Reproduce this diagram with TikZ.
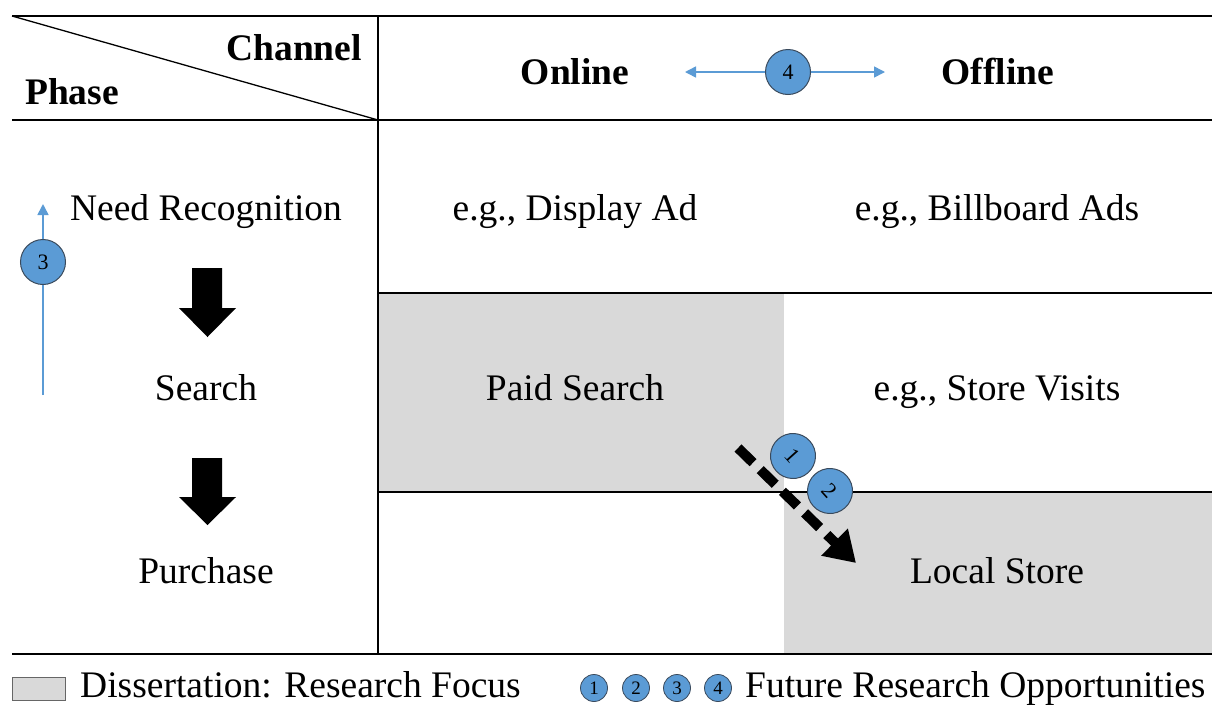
\documentclass[tikz,border=0pt]{standalone}
\usepackage{fontspec}
\setmainfont{Liberation Serif}
\usetikzlibrary{arrows.meta}
\definecolor{focusgray}{HTML}{D9D9D9}
\definecolor{oppblue}{HTML}{5B9BD5}
\definecolor{circline}{HTML}{3A4A5C}
\tikzset{
  txt/.style={font=\fontsize{37.5}{40}\selectfont, inner sep=0pt, anchor=base},
  btxt/.style={txt, font=\fontsize{37.5}{40}\selectfont\bfseries},
  grid/.style={line width=1.8pt, black},
  opp/.style={circle, fill=oppblue, draw=circline, line width=1pt, minimum size=45pt, inner sep=0pt, font=\fontsize{22}{24}\selectfont},
  oppsmall/.style={opp, minimum size=27pt, line width=0.8pt, font=\fontsize{19}{20}\selectfont},
  bluearrow/.style={draw=oppblue, line width=1.6pt, -{Triangle[length=11pt,width=11pt]}},
  blockarrow/.style={fill=black},
  flowarrow/.style={line width=10pt, dash pattern=on 21pt off 10pt, -{Triangle[length=30pt,width=36pt]}}
}
\begin{document}
\begin{tikzpicture}[x=1pt,y=-1pt]
\useasboundingbox (0,0) rectangle (1215,705);
% focus fills
\fill[focusgray] (378,293) rectangle (784,492);
\fill[focusgray] (784,492) rectangle (1212,654);
% grid lines
\draw[grid] (12,16) -- (1212,16);
\draw[grid] (12,120) -- (1212,120);
\draw[grid] (378,293) -- (1212,293);
\draw[grid] (378,492) -- (1212,492);
\draw[grid] (12,654) -- (1212,654);
\draw[grid] (378,16) -- (378,654);
\draw[line width=1.3pt] (12,16) -- (378,120);
% header
\node[btxt, anchor=base east] (channel) at (362,60) {Channel};
\node[btxt, anchor=base west] (phase) at (25,104) {Phase};
\node[btxt] (online) at (575,84) {Online};
\node[btxt] (offline) at (998,84) {Offline};
% phases
\node[txt] (need) at (206,220) {Need Recognition};
\node[txt] (search) at (206,400) {Search};
\node[txt] (purchase) at (206,583) {Purchase};
% cells
\node[txt] (display) at (575,220) {e.g., Display Ad};
\node[txt] (billboard) at (997,220) {e.g., Billboard Ads};
\node[txt] (paid) at (575,400) {Paid Search};
\node[txt] (visits) at (997,400) {e.g., Store Visits};
\node[txt] (local) at (997,583) {Local Store};
% block arrows
\fill[blockarrow] (192,268) -- (222,268) -- (222,308) -- (236,308) -- (207.5,337) -- (179,308) -- (192,308) -- cycle;
\fill[blockarrow] (192,458) -- (222,458) -- (222,497) -- (236,497) -- (207.5,525) -- (179,497) -- (192,497) -- cycle;
% opportunity 3 (vertical)
\coordinate (c3start) at (43,395);
\coordinate (c3end) at (43,204);
\draw[bluearrow] (c3start) -- (c3end);
\node[opp] (o3) at (43,262) {3};
% opportunity 4 (horizontal)
\coordinate (c4left) at (685,72);
\coordinate (c4right) at (885,72);
\node[opp] (o4) at (788,72) {4};
\draw[bluearrow] (o4) -- (c4left);
\draw[bluearrow] (o4) -- (c4right);
% opportunities 1 & 2 (diagonal)
\coordinate (dstart) at (738,448);
\coordinate (dend) at (856,563);
\draw[flowarrow] (dstart) -- (dend);
\node[opp, rotate=-48] (o1) at (793,456) {1};
\node[opp, rotate=-48] (o2) at (830,491) {2};
% legend
\draw[draw=gray!80!black, fill=focusgray, line width=0.8pt] (12,677) rectangle (65,700);
\node[txt, anchor=base west] (legfocus) at (80,697) {Dissertation: Research Focus};
\node[oppsmall] (l1) at (594,688) {1};
\node[oppsmall] (l2) at (636,688) {2};
\node[oppsmall] (l3) at (677,688) {3};
\node[oppsmall] (l4) at (718,688) {4};
\node[txt, anchor=base west] (legfuture) at (745,697) {Future Research Opportunities};
\end{tikzpicture}
\end{document}
